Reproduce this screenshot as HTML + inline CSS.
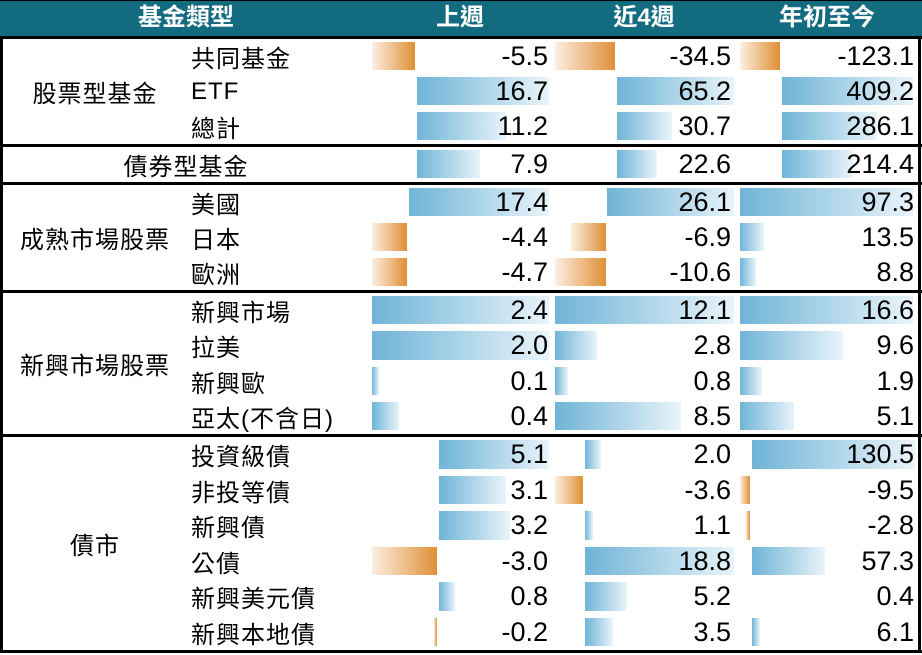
<!DOCTYPE html>
<html><head><meta charset="utf-8"><style>
*{margin:0;padding:0;box-sizing:border-box}
body{width:922px;height:655px;background:#fff;position:relative;overflow:hidden;font-family:"Liberation Sans","Noto Sans CJK TC",sans-serif;color:#000}
.hd{position:absolute;left:0;top:0;width:922px;height:36px;background:#136b80;border-top:1px solid #000}
.ht{position:absolute;top:0;height:35px;line-height:35px;color:#fff;font-weight:bold;font-size:24px;transform:translateX(-50%);white-space:nowrap}
.ln{position:absolute;left:0;width:922px;height:3px;background:#000}
.vl{position:absolute;top:36px;width:3px;height:617px;background:#000}
.r{position:absolute;left:0;width:922px}
.b{position:absolute;top:3px;bottom:4px}
.p{background:linear-gradient(to right,#6fb4d7,#e9f4fa)}
.n{background:linear-gradient(to right,#fcefe2,#e08f36)}
.v{position:absolute;top:0;bottom:0;display:flex;align-items:center;justify-content:flex-end;font-size:27px}
.l{position:absolute;left:191px;top:0;bottom:0;display:flex;align-items:center;font-size:24px;letter-spacing:1px}
.g{position:absolute;display:flex;align-items:center;justify-content:center;font-size:24px;letter-spacing:1px;left:2px;width:186px}
</style></head><body>
<div class="hd"></div>
<div class="ht" style="left:186px">基金類型</div>
<div class="ht" style="left:460px">上週</div>
<div class="ht" style="left:644px">近4週</div>
<div class="ht" style="left:827px">年初至今</div>

<div class="g" style="top:39px;height:105px">股票型基金</div>
<div class="g" style="top:185px;height:105px">成熟市場股票</div>
<div class="g" style="top:293px;height:141px">新興市場股票</div>
<div class="g" style="top:437px;height:213px">債市</div>

<div class="r" style="top:39px;height:35px"><div class="l">共同基金</div>
<div class="b n" style="left:372px;width:43px"></div><div class="b n" style="left:555px;width:60px"></div><div class="b n" style="left:740px;width:40px"></div>
<div class="v" style="right:374px">-5.5</div><div class="v" style="right:191px">-34.5</div><div class="v" style="right:8px">-123.1</div></div>
<div class="r" style="top:74px;height:35px"><div class="l">ETF</div>
<div class="b p" style="left:417px;width:132px"></div><div class="b p" style="left:617px;width:117px"></div><div class="b p" style="left:782px;width:131px"></div>
<div class="v" style="right:374px">16.7</div><div class="v" style="right:191px">65.2</div><div class="v" style="right:8px">409.2</div></div>
<div class="r" style="top:109px;height:35px"><div class="l">總計</div>
<div class="b p" style="left:417px;width:89px"></div><div class="b p" style="left:617px;width:55px"></div><div class="b p" style="left:782px;width:95px"></div>
<div class="v" style="right:374px">11.2</div><div class="v" style="right:191px">30.7</div><div class="v" style="right:8px">286.1</div></div>
<div class="r" style="top:147px;height:35px"><div class="g" style="top:0;height:35px;width:368px">債券型基金</div>
<div class="b p" style="left:417px;width:63px"></div><div class="b p" style="left:617px;width:40px"></div><div class="b p" style="left:782px;width:71px"></div>
<div class="v" style="right:374px">7.9</div><div class="v" style="right:191px">22.6</div><div class="v" style="right:8px">214.4</div></div>
<div class="r" style="top:185px;height:35px"><div class="l">美國</div>
<div class="b p" style="left:409px;width:140px"></div><div class="b p" style="left:607px;width:127px"></div><div class="b p" style="left:740px;width:173px"></div>
<div class="v" style="right:374px">17.4</div><div class="v" style="right:191px">26.1</div><div class="v" style="right:8px">97.3</div></div>
<div class="r" style="top:220px;height:35px"><div class="l">日本</div>
<div class="b n" style="left:372px;width:35px"></div><div class="b n" style="left:571px;width:35px"></div><div class="b p" style="left:740px;width:24px"></div>
<div class="v" style="right:374px">-4.4</div><div class="v" style="right:191px">-6.9</div><div class="v" style="right:8px">13.5</div></div>
<div class="r" style="top:255px;height:35px"><div class="l">歐洲</div>
<div class="b n" style="left:372px;width:35px"></div><div class="b n" style="left:555px;width:51px"></div><div class="b p" style="left:740px;width:16px"></div>
<div class="v" style="right:374px">-4.7</div><div class="v" style="right:191px">-10.6</div><div class="v" style="right:8px">8.8</div></div>
<div class="r" style="top:293px;height:35.25px"><div class="l">新興市場</div>
<div class="b p" style="left:372px;width:177px"></div><div class="b p" style="left:555px;width:179px"></div><div class="b p" style="left:740px;width:173px"></div>
<div class="v" style="right:374px">2.4</div><div class="v" style="right:191px">12.1</div><div class="v" style="right:8px">16.6</div></div>
<div class="r" style="top:328.25px;height:35.25px"><div class="l">拉美</div>
<div class="b p" style="left:372px;width:177px"></div><div class="b p" style="left:555px;width:42px"></div><div class="b p" style="left:740px;width:103px"></div>
<div class="v" style="right:374px">2.0</div><div class="v" style="right:191px">2.8</div><div class="v" style="right:8px">9.6</div></div>
<div class="r" style="top:363.5px;height:35.25px"><div class="l">新興歐</div>
<div class="b p" style="left:372px;width:7px"></div><div class="b p" style="left:555px;width:13px"></div><div class="b p" style="left:740px;width:22px"></div>
<div class="v" style="right:374px">0.1</div><div class="v" style="right:191px">0.8</div><div class="v" style="right:8px">1.9</div></div>
<div class="r" style="top:398.75px;height:35.25px"><div class="l">亞太(不含日)</div>
<div class="b p" style="left:372px;width:27px"></div><div class="b p" style="left:555px;width:126px"></div><div class="b p" style="left:740px;width:54px"></div>
<div class="v" style="right:374px">0.4</div><div class="v" style="right:191px">8.5</div><div class="v" style="right:8px">5.1</div></div>
<div class="r" style="top:437px;height:35.5px"><div class="l">投資級債</div>
<div class="b p" style="left:439px;width:110px"></div><div class="b p" style="left:585px;width:16px"></div><div class="b p" style="left:752px;width:163px"></div>
<div class="v" style="right:374px">5.1</div><div class="v" style="right:191px">2.0</div><div class="v" style="right:8px">130.5</div></div>
<div class="r" style="top:472.5px;height:35.5px"><div class="l">非投等債</div>
<div class="b p" style="left:439px;width:67px"></div><div class="b n" style="left:555px;width:28px"></div><div class="b n" style="left:740px;width:10px"></div>
<div class="v" style="right:374px">3.1</div><div class="v" style="right:191px">-3.6</div><div class="v" style="right:8px">-9.5</div></div>
<div class="r" style="top:508px;height:35.5px"><div class="l">新興債</div>
<div class="b p" style="left:439px;width:71px"></div><div class="b p" style="left:585px;width:8px"></div><div class="b n" style="left:746px;width:4px"></div>
<div class="v" style="right:374px">3.2</div><div class="v" style="right:191px">1.1</div><div class="v" style="right:8px">-2.8</div></div>
<div class="r" style="top:543.5px;height:35.5px"><div class="l">公債</div>
<div class="b n" style="left:372px;width:65px"></div><div class="b p" style="left:585px;width:149px"></div><div class="b p" style="left:752px;width:73px"></div>
<div class="v" style="right:374px">-3.0</div><div class="v" style="right:191px">18.8</div><div class="v" style="right:8px">57.3</div></div>
<div class="r" style="top:579px;height:35.5px"><div class="l">新興美元債</div>
<div class="b p" style="left:439px;width:16px"></div><div class="b p" style="left:585px;width:42px"></div>
<div class="v" style="right:374px">0.8</div><div class="v" style="right:191px">5.2</div><div class="v" style="right:8px">0.4</div></div>
<div class="r" style="top:614.5px;height:35.5px"><div class="l">新興本地債</div>
<div class="b n" style="left:434px;width:3px"></div><div class="b p" style="left:585px;width:28px"></div><div class="b p" style="left:752px;width:8px"></div>
<div class="v" style="right:374px">-0.2</div><div class="v" style="right:191px">3.5</div><div class="v" style="right:8px">6.1</div></div>

<div class="ln" style="top:36px"></div>
<div class="ln" style="top:144px"></div>
<div class="ln" style="top:182px"></div>
<div class="ln" style="top:290px"></div>
<div class="ln" style="top:434px"></div>
<div class="ln" style="top:650px"></div>
<div class="vl" style="left:0"></div>
<div class="vl" style="left:918px"></div>
</body></html>
